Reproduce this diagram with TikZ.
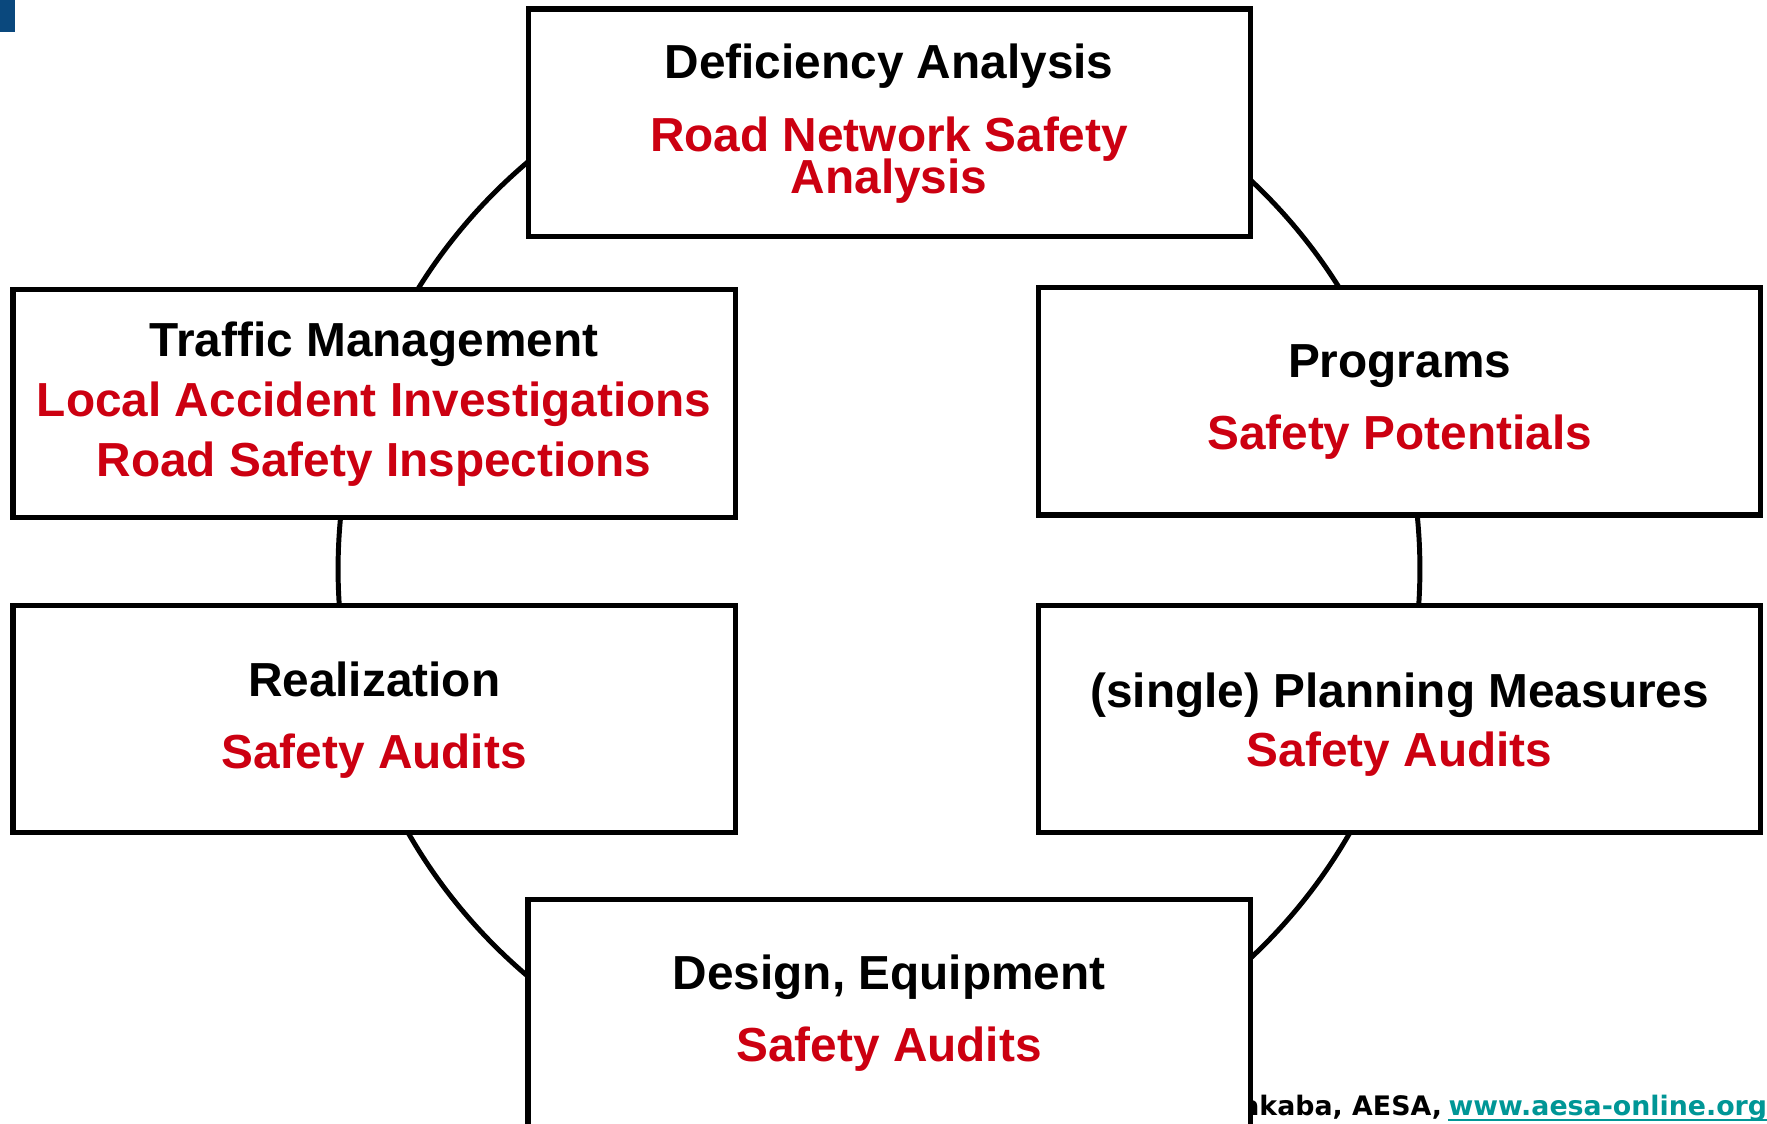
\documentclass[tikz,border=0pt]{standalone}
\usepackage{fontspec}
\setmainfont{Liberation Sans}
\newfontfamily\footfont{DejaVu Sans}
\definecolor{aesared}{RGB}{204,0,17}
\definecolor{aesateal}{RGB}{0,150,150}
\definecolor{aesablue}{RGB}{10,72,125}
\begin{document}
\begin{tikzpicture}[x=0.5pt,y=-0.5pt,
  box/.style={draw=black, line width=2.3pt, fill=white, rectangle, inner sep=0pt,
    minimum width=320.5pt, minimum height=101pt},
  blk/.style={anchor=base, inner sep=0pt, font=\fontsize{21.2}{21}\selectfont\bfseries},
  redtxt/.style={blk, text=aesared},
  foot/.style={inner sep=0pt, font=\footfont\fontsize{11.9}{12}\selectfont\bfseries}]
\useasboundingbox (0,0) rectangle (1568,997);
\clip (0,0) rectangle (1568,997);
% corner mark
\fill[aesablue] (0,0) rectangle (13,28);
% cycle
\coordinate (c) at (780,505);
\draw[line width=2.2pt] (c) ellipse [x radius=480, y radius=475];
% footer (partly hidden by bottom box)
\node[foot, anchor=base east] (footl) at (1280,990) {akaba, AESA,};
\node[foot, anchor=base west, text=aesateal] (footr) at (1285,990) {www.aesa-online.org};
\draw[aesateal, line width=1pt] ([yshift=-2pt]footr.base west) -- ([yshift=-2pt]footr.base east);
% boxes
\node[box] (top) at (789.5,109) {};
\node[box] (tm) at (332,358) {};
\node[box] (prog) at (1242,356) {};
\node[box] (real) at (332,638) {};
\node[box] (plan) at (1242,638) {};
\node[box] (bot) at (789,899) {};
% texts
\node[blk] (t1) at (789,70) {Deficiency Analysis};
\node[redtxt] (t2) at (789,134) {Road Network Safety};
\node[redtxt] (t3) at (789,172) {Analysis};
\node[blk] (tm1) at (332,316) {Traffic Management};
\node[redtxt] (tm2) at (332,370) {Local Accident Investigations};
\node[redtxt] (tm3) at (332,423) {Road Safety Inspections};
\node[blk] (p1) at (1242,335) {Programs};
\node[redtxt] (p2) at (1242,399) {Safety Potentials};
\node[blk] (r1) at (332,618) {Realization};
\node[redtxt] (r2) at (332,682) {Safety Audits};
\node[blk] (pl1) at (1242,628) {(single) Planning Measures};
\node[redtxt] (pl2) at (1242,680) {Safety Audits};
\node[blk] (b1) at (789,878) {Design, Equipment};
\node[redtxt] (b2) at (789,942) {Safety Audits};
\end{tikzpicture}
\end{document}
